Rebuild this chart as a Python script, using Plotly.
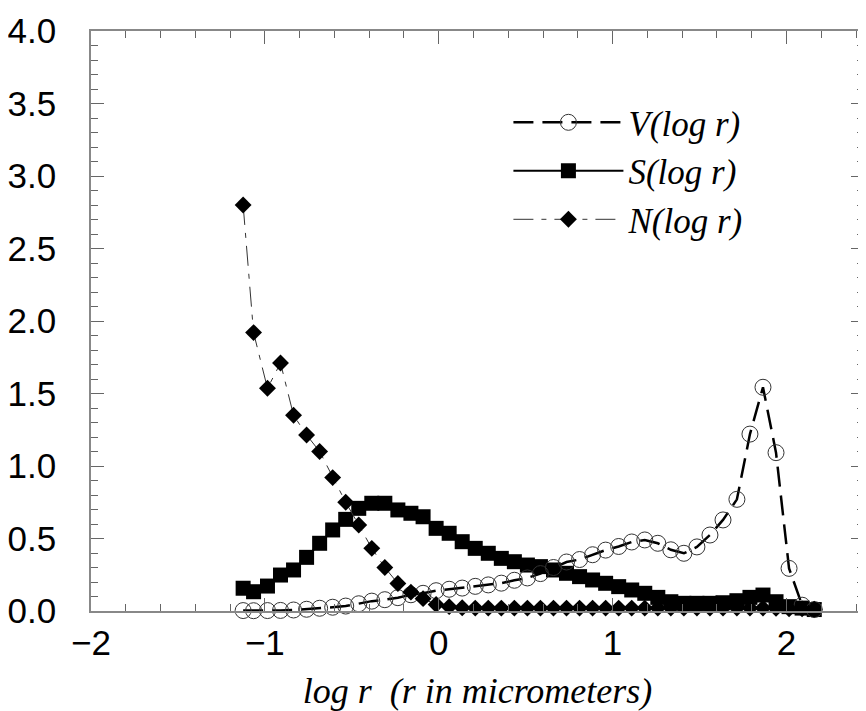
import plotly.graph_objects as go

# log r values (r in micrometers)
log_r = [-1.125, -1.065, -0.985, -0.91, -0.835, -0.76, -0.685, -0.61, -0.535, -0.46,
         -0.385, -0.31, -0.235, -0.16, -0.09, -0.015, 0.06, 0.135, 0.21, 0.285,
         0.36, 0.435, 0.51, 0.585, 0.66, 0.735, 0.81, 0.885, 0.96, 1.035,
         1.11, 1.185, 1.26, 1.335, 1.41, 1.485, 1.56, 1.635, 1.715, 1.79,
         1.865, 1.94, 2.015, 2.09, 2.16]

V_vals = [0.003, 0.002, 0.003, 0.004, 0.007, 0.012, 0.019, 0.026, 0.034, 0.050,
          0.068, 0.078, 0.092, 0.112, 0.122, 0.140, 0.150, 0.158, 0.170, 0.180,
          0.192, 0.212, 0.228, 0.258, 0.300, 0.338, 0.355, 0.388, 0.420, 0.445,
          0.476, 0.490, 0.467, 0.422, 0.398, 0.442, 0.524, 0.628, 0.770, 1.220,
          1.543, 1.092, 0.294, 0.040, 0.010]

S_vals = [0.157, 0.133, 0.172, 0.248, 0.283, 0.370, 0.467, 0.559, 0.632, 0.708,
          0.743, 0.743, 0.697, 0.674, 0.650, 0.570, 0.536, 0.478, 0.432, 0.398,
          0.363, 0.340, 0.317, 0.306, 0.283, 0.260, 0.237, 0.214, 0.191, 0.168,
          0.145, 0.122, 0.094, 0.064, 0.053, 0.053, 0.053, 0.057, 0.071, 0.094,
          0.110, 0.064, 0.030, 0.020, 0.010]

N_vals = [2.80, 1.92, 1.536, 1.71, 1.35, 1.214, 1.10, 0.92, 0.75, 0.593,
          0.432, 0.30, 0.19, 0.13, 0.085, 0.045, 0.03, 0.022, 0.02, 0.02,
          0.02, 0.02, 0.02, 0.02, 0.02, 0.02, 0.02, 0.02, 0.02, 0.02,
          0.02, 0.02, 0.02, 0.02, 0.02, 0.02, 0.02, 0.02, 0.02, 0.02,
          0.02, 0.018, 0.015, 0.015, 0.012]

series_names = ["V(log r)", "S(log r)", "N(log r)"]

fig = go.Figure()

fig.add_trace(go.Scatter(
    x=log_r, y=S_vals, name=series_names[1], mode="lines+markers",
    line=dict(color="black", width=2),
    marker=dict(symbol="square", size=15, color="black"),
    cliponaxis=False, legendrank=2))

fig.add_trace(go.Scatter(
    x=log_r, y=V_vals, name=series_names[0], mode="lines+markers",
    line=dict(color="black", width=2.5, dash="20px,9px"),
    marker=dict(symbol="circle-open", size=16, color="#333333", line=dict(width=1)),
    cliponaxis=False, legendrank=1))

fig.add_trace(go.Scatter(
    x=log_r, y=N_vals, name=series_names[2], mode="lines+markers",
    line=dict(color="#333333", width=1, dash="20px,8px,5px,8px"),
    marker=dict(symbol="diamond", size=13, color="black"),
    cliponaxis=False, legendrank=3))

axis_common = dict(
    showline=True, linecolor="#888888", linewidth=1.5, mirror="ticks",
    ticks="inside", ticklen=13, tickwidth=1.2, tickcolor="#666666",
    showgrid=False, zeroline=False,
    tickfont=dict(family="Liberation Sans, Arial, sans-serif", size=35, color="black"),
)

fig.update_xaxes(
    range=[-2, 2.446], tickmode="linear", tick0=-2, dtick=1,
    minor=dict(ticks="inside", dtick=0.2, ticklen=7, tickwidth=1.2, tickcolor="#666666"),
    ticklabelstandoff=0,
    title=dict(text="<i>log r\u00a0\u00a0(r in micrometers)</i>",
               font=dict(family="Liberation Serif, Times New Roman, serif", size=36, color="black"),
               standoff=17),
    **axis_common)

fig.update_yaxes(
    range=[0, 4], tickmode="linear", tick0=0, dtick=0.5, tickformat=".1f",
    minor=dict(ticks="inside", dtick=0.1, ticklen=7, tickwidth=1.2, tickcolor="#666666"),
    ticklabelstandoff=26,
    **axis_common)

# the page body keeps its default 8px margin, so the figure is 8px smaller
fig.update_layout(
    width=858, height=703,
    margin=dict(l=80, r=0, t=23, b=100),
    paper_bgcolor="white", plot_bgcolor="white",
    showlegend=True,
    legend=dict(x=0.54, y=0.893, xanchor="left", yanchor="top",
                bgcolor="rgba(0,0,0,0)", itemwidth=110,
                font=dict(family="Liberation Serif, Times New Roman, serif", size=35,
                          color="black", style="italic"),
                tracegroupgap=0),
)

fig.write_html("out.html")
